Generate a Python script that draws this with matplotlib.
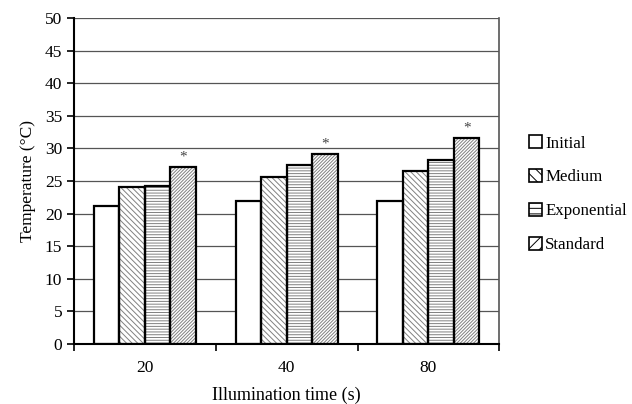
import matplotlib
matplotlib.use('Agg')
import matplotlib.pyplot as plt
import numpy as np
from matplotlib.patches import Patch

plt.rcParams['font.family'] = ['Liberation Serif', 'DejaVu Serif']
plt.rcParams['hatch.linewidth'] = 0.7

times = ['20', '40', '80']
series = ['Initial', 'Medium', 'Exponential', 'Standard']
initial = [21.2, 21.9, 22.0]
medium = [24.1, 25.6, 26.5]
exponential = [24.3, 27.5, 28.2]
standard = [27.2, 29.2, 31.6]
hatches = ['', '\\\\\\\\\\\\', '------', '//////////']

values = [initial, medium, exponential, standard]

fig = plt.figure(figsize=(6.32, 4.04), dpi=100)
ax = fig.add_axes([0.117, 0.149, 0.673, 0.806])

x = np.arange(len(times))
width = 0.18
offsets = [-1.5, -0.5, 0.5, 1.5]

for vals, off, h in zip(values, offsets, hatches):
    # hatch layer in gray, then black outline on top
    ax.bar(x + off*width, vals, width, color='white', edgecolor='#808080',
           hatch=h, linewidth=0, zorder=2)
    ax.bar(x + off*width, vals, width, fill=False, edgecolor='black',
           linewidth=1.6, zorder=3)

for xi, v in zip(x, standard):
    ax.text(xi + 1.5*width, v + 1.5, '*', ha='center', va='center',
            fontsize=11, color='#444444')

ax.set_ylim(0, 50)
ax.set_xlim(-0.5, 2.5)
ax.set_yticks(np.arange(0, 51, 5))
ax.yaxis.grid(True, color='#555555', linewidth=0.9, zorder=0)
ax.set_axisbelow(True)

ax.set_xticks([-0.5, 0.5, 1.5, 2.5])
ax.set_xticklabels([])
ax.set_xticks(x, minor=True)
ax.set_xticklabels(times, minor=True)
ax.tick_params(axis='x', which='minor', length=0, pad=12, labelsize=12.5)
ax.tick_params(axis='x', which='major', length=5, width=1.2, direction='out')
ax.tick_params(axis='y', length=5, width=1.2, direction='out', labelsize=12.5)

for s in ['left', 'bottom', 'right']:
    ax.spines[s].set_linewidth(1.5)
ax.spines['top'].set_visible(False)
ax.spines['right'].set_color('#555555')
ax.spines['right'].set_linewidth(1.2)

ax.set_ylabel('Temperature (\u00b0C)', fontsize=12.5, labelpad=6)
ax.set_xlabel('Illumination time (s)', fontsize=13, labelpad=7)

handles = [Patch(facecolor='white', edgecolor='black', hatch=h, linewidth=1.2)
           for h in ['', '\\\\\\', '---', '///']]
fig.legend(handles, series, loc='center left', bbox_to_anchor=(0.813, 0.519),
           frameon=False, fontsize=12.2, handlelength=0.75, handleheight=0.75,
           handletextpad=0.2, labelspacing=1.05)

fig.savefig('out.png', dpi=100)
